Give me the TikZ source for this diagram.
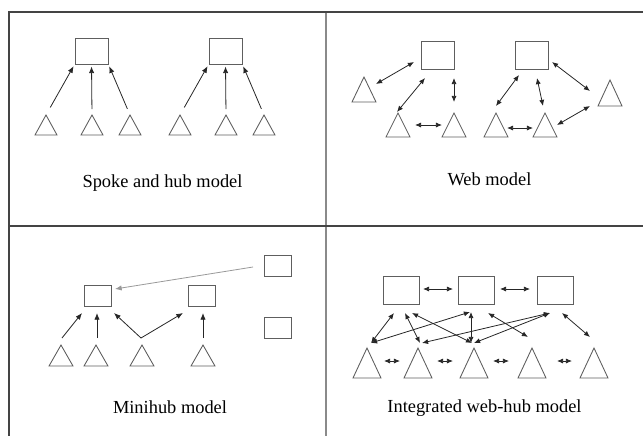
\documentclass[tikz,border=0pt]{standalone}
\usepackage{fontspec}
\setmainfont{Liberation Serif}
\usetikzlibrary{arrows.meta}
\definecolor{shapegray}{HTML}{5E5E5E}
\definecolor{framedark}{HTML}{444444}
\definecolor{framelight}{HTML}{8A8A8A}
\definecolor{arrowgray}{HTML}{999999}
\tikzset{
  shp/.style={draw=shapegray, line width=0.65pt},
  box/.style={shp, rectangle, inner sep=0pt},
  con/.style={draw=black!85, line width=0.6pt, -{Latex[length=5pt,width=4pt]}},
  dcon/.style={draw=black!85, line width=0.6pt, {Latex[length=4.6pt,width=3.8pt]}-{Latex[length=4.6pt,width=3.8pt]}},
  lbl/.style={font=\fontsize{13.8}{16}\selectfont, anchor=base, inner sep=0pt},
}
\newcommand\hub[5]{\node[box, minimum width=#4*0.75pt, minimum height=#5*0.75pt] (#1) at (#2,#3) {};}
% name, apex x, apex y, half width, height
\newcommand\tri[5]{\coordinate (#1) at (#2,#3); \draw[shp] (#1) -- ++(#4,#5) -- ++(-2*#4,0) -- cycle;}
\begin{document}
\begin{tikzpicture}[x=0.75pt,y=-0.75pt]
\useasboundingbox (0,0) rectangle (643,436);
% frame
\draw[framelight, line width=1.4pt] (326,12) -- (326,436);
\draw[framedark, line width=1.1pt] (643,12) -- (9,12) -- (9,436);
\draw[framedark, line width=1.1pt] (9,226) -- (643,226);

% ---------- Spoke and hub ----------
\hub{sa}{91.5}{51}{33}{26}
\hub{sb}{225.5}{51}{33}{26}
\tri{s1}{46}{115}{11}{20}
\tri{s2}{92}{115}{11}{20}
\tri{s3}{130}{115}{11}{20}
\tri{s4}{180}{115}{11}{20}
\tri{s5}{226}{115}{11}{20}
\tri{s6}{264}{115}{11}{20}
\draw[con, shorten <=6.5pt, shorten >=1.5pt] (s1) -- (sa.south west);
\draw[con, shorten <=4.5pt, shorten >=1.5pt] (s2) -- (sa.south);
\draw[con, shorten <=5pt, shorten >=1.5pt] (s3) -- (sa.south east);
\draw[con, shorten <=6.5pt, shorten >=1.5pt] (s4) -- (sb.south west);
\draw[con, shorten <=4.5pt, shorten >=1.5pt] (s5) -- (sb.south);
\draw[con, shorten <=5pt, shorten >=1.5pt] (s6) -- (sb.south east);
\node[lbl] (ls) at (162.5,187) {Spoke and hub model};

% ---------- Web ----------
\hub{wA}{437.5}{55}{33}{28}
\hub{wB}{531.5}{55}{33}{28}
\tri{w1}{364}{77}{12}{25}
\tri{w2}{398}{113}{12}{24}
\tri{w3}{454}{113}{12}{24}
\tri{w4}{496}{113}{12}{24}
\tri{w5}{545}{113}{12}{24}
\tri{w6}{610}{80}{12}{26}
\coordinate (wa1) at (376,84);  \coordinate (wa2) at (414,62);
\coordinate (wb1) at (397,112); \coordinate (wb2) at (425,78);
\coordinate (wc1) at (454,78);  \coordinate (wc2) at (454,102);
\coordinate (wd1) at (415,125); \coordinate (wd2) at (442,125);
\coordinate (we1) at (519,75);  \coordinate (we2) at (496,106);
\coordinate (wf1) at (537,78);  \coordinate (wf2) at (543,106);
\coordinate (wg1) at (552,62);  \coordinate (wg2) at (590,91);
\coordinate (wh1) at (507,128); \coordinate (wh2) at (533,128);
\coordinate (wi1) at (557,125); \coordinate (wi2) at (590,106);
\foreach \p in {wa,wb,wc,wd,we,wf,wg,wh,wi} \draw[dcon] (\p1) -- (\p2);
\node[lbl] (lw) at (489.5,185) {Web model};

% ---------- Minihub ----------
\hub{mA}{97.5}{295.5}{27}{21}
\hub{mB}{201.5}{295.5}{27}{21}
\hub{mC}{277.5}{265.5}{27}{21}
\hub{mD}{277.5}{327.5}{27}{21}
\tri{m1}{61}{345}{12}{21}
\tri{m2}{96}{345}{12}{21}
\tri{m3}{142}{345}{12}{21}
\tri{m4}{203}{345}{12}{21}
\coordinate (ma1) at (62,338);  \coordinate (ma2) at (82,313);
\coordinate (mb1) at (97,338);  \coordinate (mb2) at (97,313);
\coordinate (mc1) at (141,338); \coordinate (mc2) at (114,313);
\coordinate (md2) at (183,313);
\coordinate (me1) at (203,338); \coordinate (me2) at (203,313);
\coordinate (mf1) at (253,267); \coordinate (mf2) at (115,289);
\draw[con] (ma1) -- (ma2);
\draw[con] (mb1) -- (mb2);
\draw[con] (mc1) -- (mc2);
\draw[con] (mc1) -- (md2);
\draw[con] (me1) -- (me2);
\draw[con, draw=arrowgray] (mf1) -- (mf2);
\node[lbl] (lm) at (170,413) {Minihub model};

% ---------- Integrated web-hub ----------
\hub{iA}{401}{290}{36}{28}
\hub{iB}{476}{290}{36}{28}
\hub{iC}{555}{290}{36}{28}
\tri{i1}{367}{348}{14}{30}
\tri{i2}{418}{348}{14}{30}
\tri{i3}{474}{348}{14}{30}
\tri{i4}{532}{348}{14}{30}
\tri{i5}{594}{348}{14}{30}
\coordinate (ia1) at (423,289); \coordinate (ia2) at (453,289);
\coordinate (ib1) at (500,289); \coordinate (ib2) at (530,289);
\coordinate (ic1) at (384,361); \coordinate (ic2) at (400,361);
\coordinate (id1) at (437,361); \coordinate (id2) at (453,361);
\coordinate (ie1) at (493,361); \coordinate (ie2) at (509,361);
\coordinate (if1) at (557,361); \coordinate (if2) at (572,361);
\coordinate (ig1) at (371,343); \coordinate (ig2) at (394,313);
\coordinate (ih2) at (470,312);
\coordinate (ii1) at (405,313); \coordinate (ii2) at (420,343);
\coordinate (ij1) at (412,313); \coordinate (ij2) at (472,343);
\coordinate (ik1) at (471,312); \coordinate (ik2) at (471,343);
\coordinate (il1) at (550,313); \coordinate (il2) at (422,343);
\coordinate (im2) at (474,343);
\coordinate (in1) at (488,313); \coordinate (in2) at (528,337);
\coordinate (io1) at (562,313); \coordinate (io2) at (590,337);
\foreach \p in {ia,ib,ic,id,ie,if,ig,ii,ij,ik,il,in,io} \draw[dcon] (\p1) -- (\p2);
\draw[dcon] (ig1) -- (ih2);
\draw[dcon] (il1) -- (im2);
\node[lbl] (li) at (484.5,412) {Integrated web-hub model};
\end{tikzpicture}
\end{document}
